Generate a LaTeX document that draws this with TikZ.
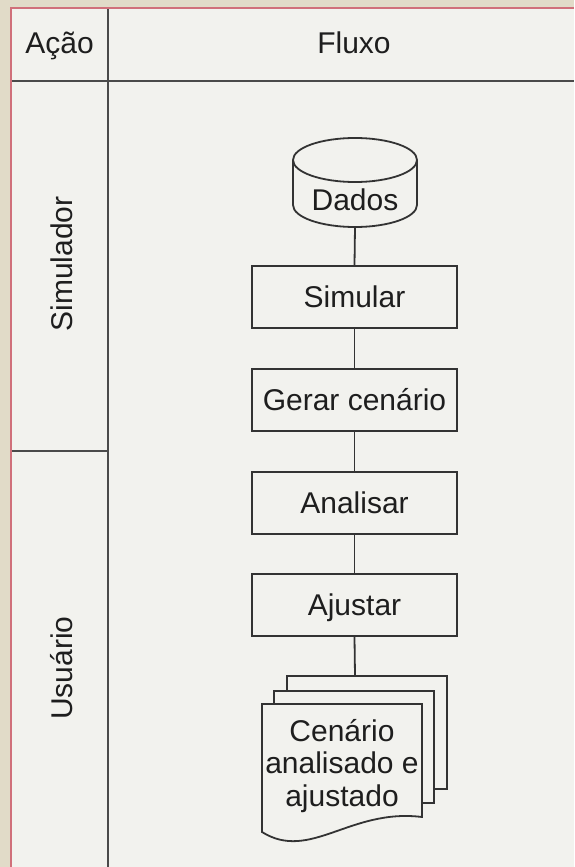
\documentclass[tikz,border=0pt]{standalone}
\usepackage{fontspec}
\setmainfont{Liberation Sans}
\definecolor{fundo}{HTML}{E1DBC8}
\definecolor{painel}{HTML}{F2F2EE}
\definecolor{borda}{HTML}{D0707A}
\definecolor{grade}{HTML}{4A4A4A}
\definecolor{traco}{HTML}{333333}
\definecolor{letra}{HTML}{1E1E1E}
\tikzset{
caixa/.style={draw=traco,line width=1.8pt,fill=painel,minimum width=205pt,minimum height=62pt,inner sep=0pt,text height=21.5pt,text depth=0pt},
ligacao/.style={draw=traco,line width=1.8pt},
folha/.style={draw=traco,line width=1.8pt,fill=painel},
divisa/.style={draw=grade,line width=2.6pt}
}
\begin{document}
\begin{tikzpicture}[x=1pt,y=-1pt,font=\fontsize{30}{32.5}\selectfont,text=letra]
\fill[fundo](0,0)rectangle(574,867);
\useasboundingbox(0,0)rectangle(574,867);
\fill[painel](11,8)rectangle(574,867);
\draw[divisa](108,8)--(108,867);
\draw[divisa](11,81)--(574,81);
\draw[divisa](11,451)--(108,451);
\draw[borda,line width=1.6pt](11,867)--(11,8)--(574,8);
\node[anchor=base](acao)at(59.5,53){Ação};
\node[anchor=base](fluxo)at(354,53){Fluxo};
\node[anchor=base,rotate=90](simulador)at(72,264){Simulador};
\node[anchor=base,rotate=90](usuario)at(72,668){Usuário};
\draw[folha](293,160)--(293,205)arc[start angle=180,end angle=360,x radius=62pt,y radius=22pt]--(417,160)arc[start angle=0,end angle=180,x radius=62pt,y radius=22pt]--cycle;
\draw[folha](293,160)arc[start angle=180,end angle=360,x radius=62pt,y radius=22pt];
\node[anchor=base](dados)at(355,210){Dados};
\coordinate(dadosBase)at(355,227);
\foreach \nome/\texto/\yc in {simular/Simular/297,gerar/Gerar cenário/400,analisar/Analisar/503,ajustar/Ajustar/605}{\node[caixa](\nome)at(354.5,\yc){\texto};}
\draw[ligacao](dadosBase)--(simular.north);
\foreach \a/\b in {simular/gerar,gerar/analisar,analisar/ajustar}{\draw[ligacao](\a.south)--(\b.north);}
\coordinate(pilhaTopo)at(355,676);
\draw[ligacao](ajustar.south)--(pilhaTopo);
\draw[folha](287,676)rectangle(447,789);
\draw[folha](274,691)rectangle(434,803);
\draw[folha](262,704)--(422,704)--(422,817).. controls (350,808) and (310,862) ..(262,832)--cycle;
\node[align=center,inner sep=0pt](cenario)at(342,766){Cenário\\analisado e\\ajustado};
\end{tikzpicture}
\end{document}
